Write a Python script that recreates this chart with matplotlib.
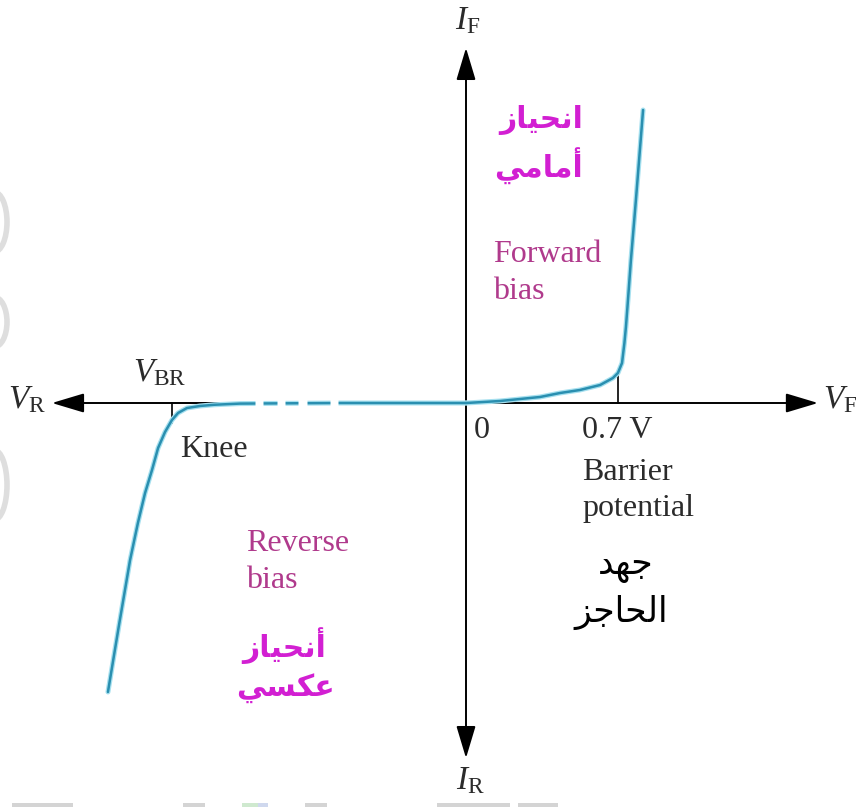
import matplotlib
matplotlib.use("Agg")
import matplotlib.pyplot as plt
from matplotlib.patches import Rectangle, Ellipse

plt.rcParams['mathtext.fontset'] = 'custom'
plt.rcParams['mathtext.rm'] = 'Liberation Serif'
plt.rcParams['mathtext.it'] = 'Liberation Serif:italic'

# diode characteristic, schematic units (V, mA)
forward_v = [0.0, 0.157, 0.341, 0.433, 0.525, 0.618, 0.677, 0.700, 0.719, 0.730, 0.737, 0.744, 0.760, 0.783, 0.816]
forward_i = [0.0, 0.068, 0.205, 0.341, 0.444, 0.614, 0.853, 1.024, 1.365, 2.048, 2.594, 3.276, 4.881, 6.928, 10.0]
reverse_v = [0.0, -0.581, -1.041, -1.160, -1.226, -1.286, -1.327, -1.355, -1.387, -1.419, -1.447,
             -1.479, -1.512, -1.548, -1.599, -1.650]
reverse_i = [0.0, 0.0, -0.02, -0.06, -0.102, -0.171, -0.341, -0.580, -0.990, -1.536, -2.287,
             -3.072, -4.096, -5.358, -7.577, -9.863]

barrier_v = 0.7
barrier_i = 0.98
breakdown_v = -1.355
breakdown_tick = -0.68
break_gaps = [(-0.972, -0.935), (-0.871, -0.834), (-0.774, -0.733), (-0.627, -0.590)]

v_axis = (-1.908, 1.622)
i_axis = (-12.12, 12.12)

# Arabic labels, already shaped (presentation forms, visual order)
ar_forward = ['\uFEAF\uFE8E\uFEF4\uFEA4\uFEE7\uFE8D', '\uFEF2\uFEE3\uFE8E\uFEE3\uFE83']
ar_reverse = ['\uFEAF\uFE8E\uFEF4\uFEA4\uFEE7\uFE83', '\uFEF2\uFEB4\uFEDC\uFECB']
ar_barrier = ['\uFEAA\uFEEC\uFE9F', '\uFEB0\uFE9F\uFE8E\uFEA4\uFEDF\uFE8D']

W, H = 856, 807
X0, Y0 = 466, 403
SX, SY = 217.0, 29.3


def px(x, y):
    return (x - X0) / SX, (Y0 - y) / SY


fig = plt.figure(figsize=(W / 100, H / 100), dpi=100)
ax = fig.add_axes([0, 0, 1, 1])
ax.set_xlim(-X0 / SX, (W - X0) / SX)
ax.set_ylim(-(H - Y0) / SY, Y0 / SY)
ax.axis('off')

# faint scan marks along the left and bottom edges
for cy, h in [(222, 60), (322, 50), (485, 70)]:
    fig.patches.append(Ellipse((-6 / W, 1 - cy / H), 26 / W, h / H, transform=fig.transFigure,
                               fill=False, edgecolor='#dedede', lw=4))
for x, w in [(12, 61), (183, 22), (305, 22), (437, 73), (518, 40)]:
    fig.patches.append(Rectangle((x / W, 0), w / W, 4 / H, transform=fig.transFigure,
                                 color='#d4d4d4', lw=0))
fig.patches.append(Rectangle((242 / W, 0), 16 / W, 4 / H, transform=fig.transFigure, color='#cfe9cf', lw=0))
fig.patches.append(Rectangle((258 / W, 0), 10 / W, 4 / H, transform=fig.transFigure, color='#cfd8ee', lw=0))

arrow = dict(arrowstyle='<|-|>,head_length=1.0,head_width=0.3', mutation_scale=20,
             lw=1.4, color='black', shrinkA=0, shrinkB=0)
ax.annotate('', xy=(v_axis[1], 0), xytext=(v_axis[0], 0), arrowprops=arrow, zorder=2)
ax.annotate('', xy=(0, i_axis[1]), xytext=(0, i_axis[0]), arrowprops=arrow, zorder=2)

ax.plot([barrier_v, barrier_v], [0, barrier_i], color='black', lw=1.2, zorder=2)
ax.plot([breakdown_v, breakdown_v], [0, breakdown_tick], color='black', lw=1.2, zorder=2)

curve = '#2a8fb0'
for v, i in ((forward_v, forward_i), (reverse_v, reverse_i)):
    ax.plot(v, i, color='#a6e0ef', lw=3.6, solid_capstyle='round', solid_joinstyle='round', zorder=3)
    ax.plot(v, i, color=curve, lw=1.8, solid_capstyle='round', solid_joinstyle='round', zorder=4)

for a, b in break_gaps:
    ax.plot([a, b], [0, 0], color='white', lw=5, solid_capstyle='butt', zorder=5)

serif = 'Liberation Serif'
ink = '#2b2b2b'
pink = '#b03a8c'
magenta = '#d21fd2'


def label(x, y, s, color=ink, size=23, ha='left', family=serif, weight='normal'):
    ax.text(*px(x, y), s, color=color, fontsize=size, ha=ha, va='baseline', family=family,
            fontweight=weight, zorder=6)


label(455, 29, r'$I_{\mathrm{F}}$', size=24)
label(456, 789, r'$I_{\mathrm{R}}$', size=24)
label(8, 408, r'$V_{\mathrm{R}}$', size=24)
label(823, 408, r'$V_{\mathrm{F}}$', size=24)
label(133, 381, r'$V_{\mathrm{BR}}$', size=24)

label(180, 457, 'Knee')
label(474, 438, '0')
label(582, 438, '0.7 V')
label(582, 480, 'Barrier')
label(582, 516, 'potential')
label(493, 262, 'Forward', color=pink)
label(493, 299, 'bias', color=pink)
label(246, 551, 'Reverse', color=pink)
label(246, 588, 'bias', color=pink)

arabic = ['DejaVu Sans']
label(541, 128, ar_forward[0], color=magenta, size=21.5, ha='center', family=arabic, weight='bold')
label(538, 178, ar_forward[1], color=magenta, size=21.5, ha='center', family=arabic, weight='bold')
label(284, 657, ar_reverse[0], color=magenta, size=21.5, ha='center', family=arabic, weight='bold')
label(285, 697, ar_reverse[1], color=magenta, size=21.5, ha='center', family=arabic, weight='bold')
label(626, 574, ar_barrier[0], color='black', size=25, ha='center', family=arabic)
label(621, 622, ar_barrier[1], color='black', size=25, ha='center', family=arabic)

fig.savefig('out.png', dpi=100, facecolor='white')
